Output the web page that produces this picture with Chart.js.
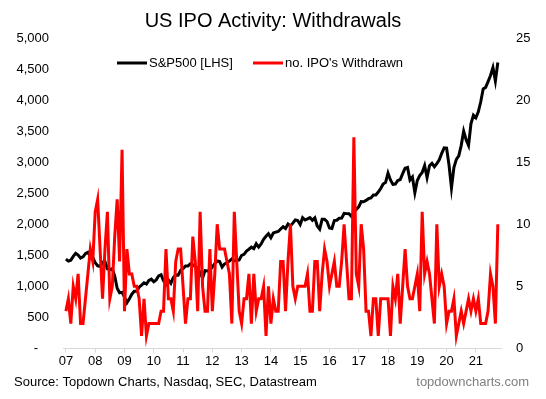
<!DOCTYPE html>
<html>
<head>
<meta charset="utf-8">
<script src="https://cdn.jsdelivr.net/npm/chart.js@4.4.1/dist/chart.umd.min.js"></script>
<style>
  body { margin: 0; background: #fff; }
  #wrap { width: 546px; height: 399px; }
</style>
</head>
<body>
<div id="wrap"><canvas id="ipoChart" width="546" height="399"></canvas></div>
<script>
// year tick labels (one per January)
const years = ["07", "08", "09", "10", "11", "12", "13", "14", "15", "16", "17", "18", "19", "20", "21"];

// S&P500, month-end, Jan 2007 .. Oct 2021
const sp500 = [
  1438, 1407, 1421, 1482, 1531, 1503, 1455, 1474, 1527, 1549, 1481, 1468,
  1379, 1331, 1323, 1386, 1400, 1280, 1267, 1283, 1166, 969, 896, 903,
  826, 735, 798, 873, 919, 919, 987, 1021, 1057, 1036, 1096, 1115,
  1074, 1104, 1169, 1187, 1089, 1031, 1102, 1049, 1141, 1183, 1181, 1258,
  1286, 1327, 1326, 1364, 1345, 1321, 1292, 1219, 1131, 1253, 1247, 1258,
  1312, 1366, 1408, 1398, 1310, 1362, 1379, 1407, 1441, 1412, 1416, 1426,
  1498, 1515, 1569, 1598, 1631, 1606, 1686, 1633, 1682, 1757, 1806, 1848,
  1783, 1859, 1872, 1884, 1924, 1960, 1931, 2003, 1972, 2018, 2068, 2059,
  1995, 2105, 2068, 2086, 2107, 2063, 2104, 1972, 1920, 2079, 2080, 2044,
  1940, 1932, 2060, 2065, 2097, 2099, 2174, 2171, 2168, 2126, 2199, 2239,
  2279, 2364, 2363, 2384, 2412, 2423, 2470, 2472, 2519, 2575, 2648, 2674,
  2824, 2714, 2641, 2648, 2705, 2718, 2816, 2902, 2914, 2712, 2760, 2507,
  2704, 2784, 2834, 2946, 2752, 2942, 2980, 2926, 2977, 3038, 3141, 3231,
  3226, 2954, 2585, 2912, 3044, 3100, 3271, 3500, 3363, 3270, 3622, 3756,
  3714, 3811, 3973, 4181, 4204, 4298, 4395, 4523, 4308, 4605
];

// no. of IPOs withdrawn per month, same months
const ipoWithdrawn = [
  3, 4, 2, 5, 4, 6, 2, 2, 4, 6, 8, 7,
  11, 12, 8, 4, 8, 11, 4, 5, 9, 12, 7, 16,
  3, 8, 6, 6, 5, 5, 4, 1, 4, 1, 2, 2,
  2, 2, 2, 3, 3, 8, 4, 4, 3, 7, 8, 8,
  5, 2, 4, 4, 9, 7, 3, 11, 5, 3, 3, 8,
  3, 6, 10, 8, 8, 8, 7, 6, 2, 11, 7, 3,
  2, 4, 4, 6, 2, 6, 3, 4, 4, 5, 1, 5,
  2, 4, 3, 3, 7, 7, 3, 7, 10, 5, 4, 5,
  5, 5, 5, 6, 3, 3, 7, 7, 3, 6, 8, 7,
  5, 6, 7, 5, 5, 7, 10, 7, 4, 4, 17, 6,
  5, 10, 8, 3, 3, 1, 4, 4, 1, 4, 4, 4,
  4, 1, 5, 4, 6, 2, 5, 8, 5, 4, 4, 5,
  6, 3, 11, 6, 7, 6, 4, 2, 10, 5, 6, 5,
  2, 3, 3, 4, 1, 2, 3, 2, 3, 4, 3, 4,
  3, 4, 2, 2, 2, 3, 6, 5, 2, 10
];

const FONT = '"Liberation Sans", Arial, sans-serif';
const sourceText = "Source: Topdown Charts, Nasdaq, SEC, Datastream";

// legend sits inside the plot, plus the footer lines
const overlay = {
  id: 'overlay',
  afterDraw(chart) {
    const ctx = chart.ctx;
    ctx.save();
    ctx.font = '13px ' + FONT;
    ctx.textBaseline = 'middle';
    const legendY = 63;
    [[0, 117], [1, 253]].forEach(([i, x]) => {
      const ds = chart.data.datasets[i];
      ctx.strokeStyle = ds.borderColor;
      ctx.lineWidth = 3;
      ctx.beginPath();
      ctx.moveTo(x, legendY);
      ctx.lineTo(x + 30, legendY);
      ctx.stroke();
      ctx.fillStyle = '#000';
      ctx.fillText(ds.label, x + 32, legendY);
    });
    ctx.fillStyle = '#000';
    ctx.fillText(sourceText, 14, 382);
    ctx.fillStyle = '#7f7f7f';
    ctx.textAlign = 'right';
    ctx.fillText('topdowncharts.com', 529, 382);
    ctx.restore();
  }
};

const ipoChart = new Chart(document.getElementById("ipoChart"), {
  type: 'line',
  data: {
    datasets: [{
      label: 'S&P500 [LHS]',
      data: sp500.map((v, i) => ({ x: i, y: v })),
      borderColor: '#000000',
      borderWidth: 3,
      pointRadius: 0,
      tension: 0,
      yAxisID: 'y',
      order: 2
    }, {
      label: "no. IPO's Withdrawn",
      data: ipoWithdrawn.map((v, i) => ({ x: i, y: v })),
      borderColor: '#ff0000',
      borderWidth: 3,
      pointRadius: 0,
      tension: 0,
      yAxisID: 'y1',
      order: 1
    }]
  },
  options: {
    responsive: false,
    animation: false,
    layout: { padding: { left: 0, right: 0, top: 0, bottom: 29 } },
    plugins: {
      legend: { display: false },
      tooltip: { enabled: false },
      title: {
        display: true,
        text: 'US IPO Activity: Withdrawals',
        color: '#000',
        font: { family: FONT, size: 20, weight: 'normal' },
        padding: { top: 9, bottom: 5 }
      }
    },
    scales: {
      x: {
        type: 'linear',
        min: -1.2,
        max: 178.3,
        afterBuildTicks: (scale) => {
          scale.ticks = years.map((y, i) => ({ value: i * 12 }));
        },
        ticks: {
          color: '#000',
          font: { family: FONT, size: 13 },
          padding: 1,
          maxRotation: 0,
          autoSkip: false,
          callback: (v) => years[Math.round(v / 12)]
        },
        grid: { drawOnChartArea: false, drawTicks: true, tickLength: 4, color: '#d9d9d9' },
        border: { display: true, color: '#d9d9d9', width: 1 }
      },
      y: {
        position: 'left',
        min: 0,
        max: 5000,
        afterFit: (scale) => { scale.width = 63; },
        ticks: {
          stepSize: 500,
          color: '#000',
          font: { family: FONT, size: 13 },
          padding: 14,
          callback: (v) => v === 0 ? '-   ' : v.toLocaleString('en-US')
        },
        grid: { display: false, drawTicks: false },
        border: { display: false }
      },
      y1: {
        position: 'right',
        min: 0,
        max: 25,
        afterFit: (scale) => { scale.width = 45; },
        ticks: {
          stepSize: 5,
          color: '#000',
          font: { family: FONT, size: 13 },
          padding: 15
        },
        grid: { display: false, drawTicks: false },
        border: { display: false }
      }
    }
  },
  plugins: [overlay]
});
</script>
</body>
</html>
